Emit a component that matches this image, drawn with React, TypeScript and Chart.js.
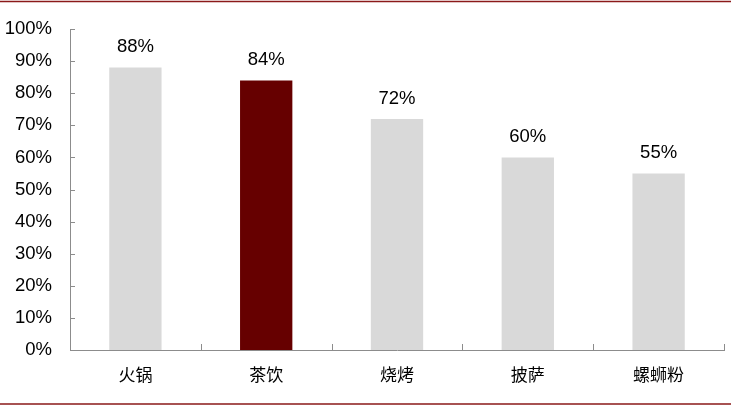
import React, { useEffect, useRef } from "react";
import { Chart, registerables } from "chart.js";

Chart.register(...registerables);

const categories = ["火锅", "茶饮", "烧烤", "披萨", "螺蛳粉"];
const shares = [88, 84, 72, 60, 55];
const barColors = ["#d9d9d9", "#660000", "#d9d9d9", "#d9d9d9", "#d9d9d9"];

const NUM_FONT = "'Liberation Sans', Arial, sans-serif";
const CJK_FONT = "'Noto Sans CJK SC', sans-serif";

// red rules, inward ticks and the value labels
const decorations = {
  id: "decorations",
  afterDraw(chart: any) {
    const { ctx, scales, width, height } = chart;
    const x = scales.x;
    const y = scales.y;
    ctx.save();

    ctx.strokeStyle = "#8b1a1a";
    ctx.lineWidth = 1.3;
    ctx.beginPath();
    ctx.moveTo(0, 1.5);
    ctx.lineTo(width, 1.5);
    ctx.moveTo(0, height - 2);
    ctx.lineTo(width, height - 2);
    ctx.stroke();

    ctx.strokeStyle = "#8c8c8c";
    ctx.lineWidth = 1;
    ctx.beginPath();
    y.ticks.forEach((t: any) => {
      const py = Math.round(y.getPixelForValue(t.value)) + 0.5;
      ctx.moveTo(x.left, py);
      ctx.lineTo(x.left + 5, py);
    });
    const step = (x.right - x.left) / categories.length;
    for (let i = 1; i <= categories.length; i++) {
      const px = Math.round(x.left + step * i) + 0.5;
      ctx.moveTo(px, y.bottom);
      ctx.lineTo(px, y.bottom - 6);
    }
    ctx.stroke();

    ctx.fillStyle = "#000";
    ctx.font = `18.5px ${NUM_FONT}`;
    ctx.textAlign = "center";
    ctx.textBaseline = "bottom";
    chart.getDatasetMeta(0).data.forEach((bar: any, i: number) => {
      ctx.fillText(`${shares[i]}%`, bar.x, bar.y - 11);
    });
    ctx.restore();
  },
};

export default function App() {
  const canvasRef = useRef<HTMLCanvasElement | null>(null);

  useEffect(() => {
    document.body.style.margin = "0";
    if (!canvasRef.current) return;
    const chart = new Chart(canvasRef.current, {
      type: "bar",
      data: {
        labels: categories,
        datasets: [
          {
            data: shares,
            backgroundColor: barColors,
            categoryPercentage: 0.4,
            barPercentage: 1,
          },
        ],
      },
      options: {
        animation: false,
        responsive: false,
        maintainAspectRatio: false,
        layout: { padding: { top: 27, right: 7, left: 0, bottom: 0 } },
        plugins: { legend: { display: false }, tooltip: { enabled: false } },
        scales: {
          x: {
            grid: { display: false, drawTicks: false },
            border: { color: "#8c8c8c", width: 1 },
            ticks: {
              color: "#000",
              font: { family: CJK_FONT, size: 17 },
              padding: 14,
            },
            afterFit: (s: any) => {
              s.height = 56;
            },
          },
          y: {
            min: 0,
            max: 100,
            grid: { display: false, drawTicks: false },
            border: { color: "#8c8c8c", width: 1 },
            ticks: {
              stepSize: 10,
              color: "#000",
              font: { family: NUM_FONT, size: 18.5 },
              padding: 18,
              callback: (v: any) => `${v}%`,
            },
            afterFit: (s: any) => {
              s.width = 70;
            },
          },
        },
      },
      plugins: [decorations],
    });
    return () => chart.destroy();
  }, []);

  return (
    <div style={{ width: 731, height: 406 }}>
      <canvas ref={canvasRef} width={731} height={406} />
    </div>
  );
}
